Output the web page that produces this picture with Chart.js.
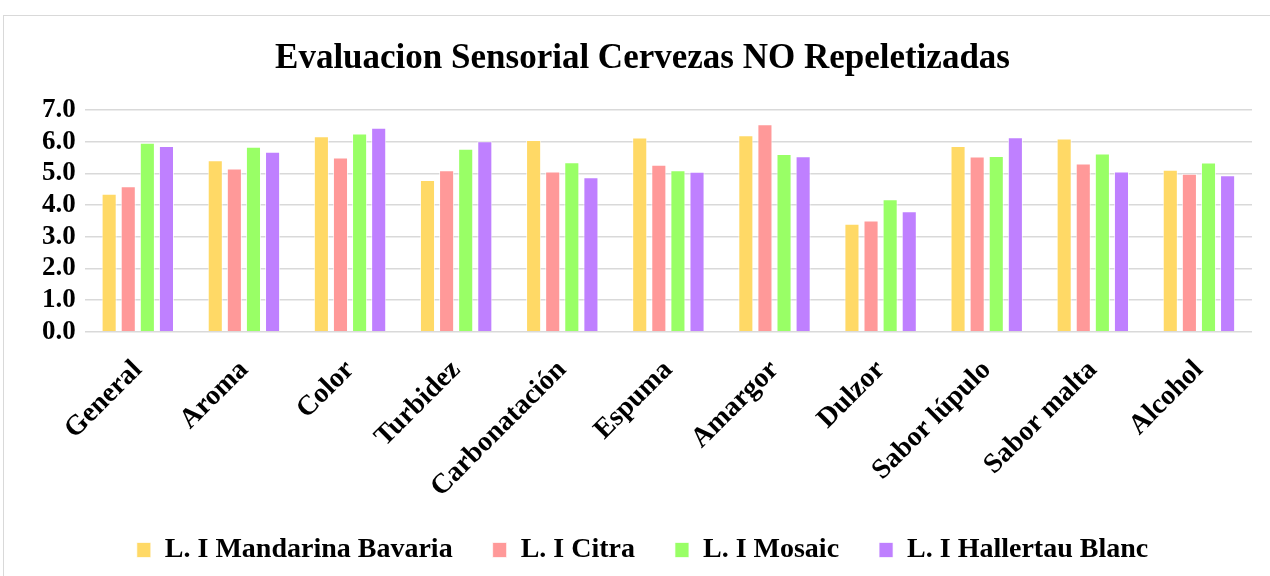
<!DOCTYPE html>
<html>
<head>
<meta charset="utf-8">
<script src="https://cdn.jsdelivr.net/npm/chart.js@4"></script>
<style>
  html, body { margin: 0; padding: 0; background: #fff; overflow: hidden; }
  #frame { position: absolute; left: 3px; top: 15px; width: 1290px; height: 600px; border: 1px solid #d9d9d9; }
  #wrap { position: absolute; left: 0; top: 0; width: 1270px; height: 576px; }
</style>
</head>
<body>
<div id="frame"></div>
<div id="wrap"><canvas id="myChart"></canvas></div>
<script>
const categories = ['General', 'Aroma', 'Color', 'Turbidez', 'Carbonatación', 'Espuma', 'Amargor', 'Dulzor', 'Sabor lúpulo', 'Sabor malta', 'Alcohol'];
const seriesNames = ['L. I Mandarina Bavaria', 'L. I Citra', 'L. I Mosaic', 'L. I Hallertau Blanc'];
const mandarina = [4.36, 5.41, 6.17, 4.79, 6.05, 6.13, 6.20, 3.41, 5.86, 6.10, 5.11];
const citra = [4.59, 5.15, 5.50, 5.10, 5.06, 5.27, 6.55, 3.51, 5.53, 5.31, 4.99];
const mosaic = [5.97, 5.84, 6.26, 5.78, 5.35, 5.10, 5.61, 4.18, 5.55, 5.63, 5.34];
const hallertau = [5.86, 5.68, 6.44, 6.01, 4.88, 5.05, 5.54, 3.80, 6.14, 5.06, 4.94];
const yTicks = [0, 1, 2, 3, 4, 5, 6, 7];

const colors = ['#FFD966', '#FF9999', '#99FF66', '#BF80FF'];
const font = 'Liberation Serif, Times New Roman, serif';

const data = {
    labels: categories,
    datasets: [mandarina, citra, mosaic, hallertau].map((vals, i) => ({
        label: seriesNames[i],
        data: vals,
        backgroundColor: colors[i],
        borderColor: 'rgba(255,255,255,0.7)',
        borderWidth: 1,
        categoryPercentage: 0.72,
        barPercentage: 0.79,
    })),
};

const ctx = document.getElementById('myChart').getContext('2d');

const myChart = new Chart(ctx, {
    type: 'bar',
    data: data,
    options: {
        responsive: true,
        maintainAspectRatio: false,
        animation: false,
        layout: { padding: { left: 33, right: 18, top: 20, bottom: 2 } },
        plugins: {
            title: {
                display: true,
                text: 'Evaluacion Sensorial Cervezas NO Repeletizadas',
                color: '#000',
                font: { family: font, size: 35, weight: 'bold' },
                padding: { top: 18, bottom: 30 },
            },
            legend: {
                position: 'bottom',
                labels: {
                    color: '#000',
                    font: { family: font, size: 28, weight: 'bold' },
                    boxWidth: 14,
                    boxHeight: 15,
                    padding: 40,
                },
            },
            tooltip: { enabled: false },
        },
        scales: {
            x: {
                grid: { display: false },
                border: { display: false },
                afterFit: scale => { scale.height -= 22; },
                ticks: {
                    color: '#000',
                    maxRotation: 45,
                    minRotation: 45,
                    padding: 14,
                    font: { family: font, size: 28, weight: 'bold' },
                },
            },
            y: {
                min: 0,
                max: 7,
                afterBuildTicks: axis => { axis.ticks = yTicks.map(v => ({ value: v })); },
                grid: { color: '#d9d9d9', lineWidth: 1.5, drawTicks: false },
                border: { display: false },
                ticks: {
                    color: '#000',
                    padding: 9,
                    autoSkip: false,
                    font: { family: font, size: 27, weight: 'bold' },
                    callback: v => Number(v).toFixed(1),
                },
            },
        },
    },
});
</script>
</body>
</html>
